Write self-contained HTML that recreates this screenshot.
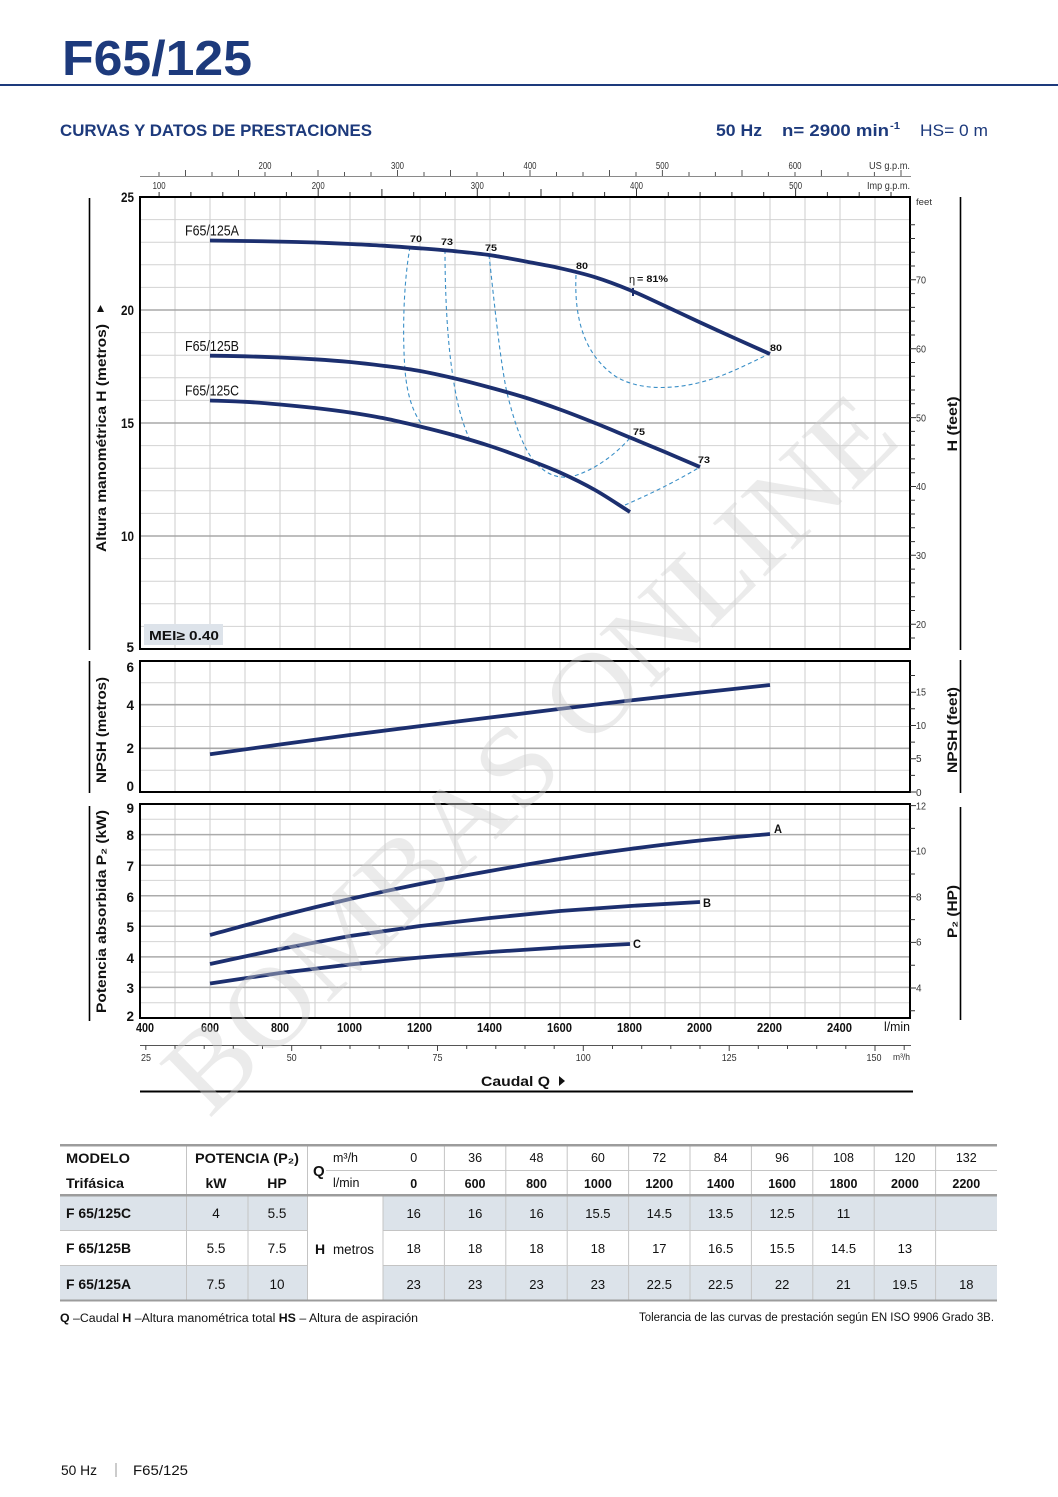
<!DOCTYPE html>
<html><head><meta charset="utf-8">
<style>
html,body{margin:0;padding:0;background:#fff;}
svg{display:block;}
text{font-family:"Liberation Sans",Arial,sans-serif;}
</style></head><body>
<svg width="1058" height="1497" viewBox="0 0 1058 1497" xmlns="http://www.w3.org/2000/svg">
<rect width="1058" height="1497" fill="#fff"/>

<!-- Title -->
<text x="62" y="75" font-size="49" font-weight="bold" fill="#1d3a7c" textLength="190" lengthAdjust="spacingAndGlyphs">F65/125</text>
<rect x="0" y="84" width="1058" height="2" fill="#1d3a7c"/>

<text x="60" y="136" font-size="16.5" font-weight="bold" fill="#1d3a7c" textLength="312" lengthAdjust="spacingAndGlyphs">CURVAS Y DATOS DE PRESTACIONES</text>
<text x="716" y="136" font-size="16.5" font-weight="bold" fill="#1d3a7c" textLength="46" lengthAdjust="spacingAndGlyphs">50 Hz</text>
<text x="782" y="136" font-size="16.5" font-weight="bold" fill="#1d3a7c" textLength="107" lengthAdjust="spacingAndGlyphs">n= 2900 min</text>
<text x="890" y="129" font-size="10" font-weight="bold" fill="#1d3a7c" textLength="10" lengthAdjust="spacingAndGlyphs">-1</text>
<text x="920" y="136" font-size="16.5" fill="#1d3a7c" textLength="68" lengthAdjust="spacingAndGlyphs">HS= 0 m</text>

<!-- Top axes -->
<line x1="140" y1="176.5" x2="911" y2="176.5" stroke="#8a8a8a" stroke-width="1"/>
<path stroke="#555" stroke-width="1" fill="none" d="M159 176V172 M185.5 176V170 M212 176V172 M238.5 176V170 M265 176V172 M291.5 176V172 M318 176V170 M344.5 176V172 M371 176V172 M397.5 176V170 M424 176V172 M450.5 176V170 M477 176V172 M503.5 176V172 M530 176V170 M556.5 176V172 M583 176V172 M609.5 176V170 M636 176V172 M662.4 176V170 M689 176V172 M715.4 176V172 M742 176V170 M768.4 176V172 M795 176V172 M821.4 176V170 M848 176V172 M874.4 176V172 M901 176V170"/>
<g font-size="10" fill="#333" text-anchor="middle">
<text x="265" y="169" textLength="13" lengthAdjust="spacingAndGlyphs">200</text>
<text x="397.5" y="169" textLength="13" lengthAdjust="spacingAndGlyphs">300</text>
<text x="530" y="169" textLength="13" lengthAdjust="spacingAndGlyphs">400</text>
<text x="662.4" y="169" textLength="13" lengthAdjust="spacingAndGlyphs">500</text>
<text x="795" y="169" textLength="13" lengthAdjust="spacingAndGlyphs">600</text>
</g>
<text x="910" y="169" font-size="10.5" fill="#333" text-anchor="end" textLength="41" lengthAdjust="spacingAndGlyphs">US g.p.m.</text>
<path stroke="#333" stroke-width="1" fill="none" d="M159.1 197V192 M190.9 197V192 M222.8 197V192 M254.6 197V192 M286.4 197V192 M318.2 197V189 M350 197V192 M381.9 197V189 M413.7 197V192 M445.5 197V192 M477.3 197V189 M509.2 197V192 M541 197V189 M572.8 197V192 M604.6 197V192 M636.5 197V189 M668.3 197V192 M700.1 197V192 M731.9 197V192 M763.7 197V192 M795.6 197V189 M827.4 197V192 M859.2 197V192 M891 197V192"/>
<g font-size="10" fill="#333" text-anchor="middle">
<text x="159.1" y="189" textLength="13" lengthAdjust="spacingAndGlyphs">100</text>
<text x="318.2" y="189" textLength="13" lengthAdjust="spacingAndGlyphs">200</text>
<text x="477.3" y="189" textLength="13" lengthAdjust="spacingAndGlyphs">300</text>
<text x="636.5" y="189" textLength="13" lengthAdjust="spacingAndGlyphs">400</text>
<text x="795.6" y="189" textLength="13" lengthAdjust="spacingAndGlyphs">500</text>
</g>
<text x="910" y="189" font-size="10.5" fill="#333" text-anchor="end" textLength="43" lengthAdjust="spacingAndGlyphs">Imp g.p.m.</text>
<text x="916" y="205" font-size="9" fill="#333" textLength="16" lengthAdjust="spacingAndGlyphs">feet</text>

<!-- ================= MAIN CHART ================= -->
<path stroke="#cccccc" stroke-width="1" fill="none" d="M175 197V649 M210 197V649 M245 197V649 M280 197V649 M315 197V649 M350 197V649 M385 197V649 M420 197V649 M455 197V649 M490 197V649 M525 197V649 M560 197V649 M595 197V649 M630 197V649 M665 197V649 M700 197V649 M735 197V649 M770 197V649 M805 197V649 M840 197V649 M875 197V649"/>
<path stroke="#d2d2d2" stroke-width="1" fill="none" d="M140 219.6H910 M140 242.2H910 M140 264.8H910 M140 287.4H910 M140 332.6H910 M140 355.2H910 M140 377.8H910 M140 400.4H910 M140 445.6H910 M140 468.2H910 M140 490.8H910 M140 513.4H910 M140 558.6H910 M140 581.2H910 M140 603.8H910 M140 626.4H910"/>
<path stroke="#a8a8a8" stroke-width="1.6" fill="none" d="M140 310H910 M140 423H910 M140 536H910"/>
<rect x="140" y="197" width="770" height="452" fill="none" stroke="#000" stroke-width="2"/>

<!-- left labels main -->
<g font-size="13.5" font-weight="bold" fill="#111" text-anchor="end">
<text x="134" y="202" textLength="13" lengthAdjust="spacingAndGlyphs">25</text>
<text x="134" y="315" textLength="13" lengthAdjust="spacingAndGlyphs">20</text>
<text x="134" y="428" textLength="13" lengthAdjust="spacingAndGlyphs">15</text>
<text x="134" y="541" textLength="13" lengthAdjust="spacingAndGlyphs">10</text>
<text x="134" y="652">5</text>
</g>
<!-- right feet ticks main -->
<path stroke="#333" stroke-width="1" fill="none" d="M910 224.7h5 M910 238.5h5 M910 252.3h5 M910 266h5 M910 279.8h6 M910 293.6h5 M910 307.4h5 M910 321.1h5 M910 335h5 M910 348.7h6 M910 362.5h5 M910 376.2h5 M910 390h5 M910 403.8h5 M910 417.6h6 M910 431.4h5 M910 445.1h5 M910 458.9h5 M910 472.7h5 M910 486.5h6 M910 500.2h5 M910 514h5 M910 527.8h5 M910 541.6h5 M910 555.3h6 M910 569.1h5 M910 582.9h5 M910 596.7h5 M910 610.5h5 M910 624.2h6 M910 638h5"/>
<g font-size="10" fill="#333">
<text x="916" y="283.5" textLength="10" lengthAdjust="spacingAndGlyphs">70</text>
<text x="916" y="352.5" textLength="10" lengthAdjust="spacingAndGlyphs">60</text>
<text x="916" y="421.5" textLength="10" lengthAdjust="spacingAndGlyphs">50</text>
<text x="916" y="490" textLength="10" lengthAdjust="spacingAndGlyphs">40</text>
<text x="916" y="559" textLength="10" lengthAdjust="spacingAndGlyphs">30</text>
<text x="916" y="628" textLength="10" lengthAdjust="spacingAndGlyphs">20</text>
</g>

<!-- efficiency dashed -->
<g stroke="#3a8fc7" stroke-width="1.1" fill="none" stroke-dasharray="4 3">
<path d="M410 247 C404 280 402 330 405 370 C407 395 413 412 421 423"/>
<path d="M445 250 C445 290 447 340 453 377 C457 405 463 425 470 440"/>
<path d="M489 255 C494 300 500 360 507 393 C515 425 525 455 540 467 C552 478 565 479 577 475 C595 469 615 455 630 438"/>
<path d="M625 505 C648 495 675 482 700 467"/>
<path d="M576 275 C574 320 585 355 615 376 C640 392 680 390 715 378 C735 371 752 362 769 354"/>
</g>

<!-- H curves -->
<g stroke="#1c2f6f" stroke-width="3.8" fill="none" stroke-linejoin="round" stroke-linecap="butt">
<path d="M210 240.5 C221.7 240.67 233.3 240.82 245 241 C256.7 241.18 268.3 241.35 280 241.6 C291.7 241.85 303.3 242.1 315 242.5 C326.7 242.9 338.3 243.45 350 244 C361.7 244.55 373.3 245.08 385 245.8 C396.7 246.52 408.3 247.4 420 248.3 C431.7 249.2 443.3 250.07 455 251.2 C466.7 252.33 478.3 253.4 490 255.1 C501.7 256.8 513.3 259.22 525 261.4 C536.7 263.58 548.3 265.57 560 268.2 C571.7 270.83 583.3 273.55 595 277.2 C606.7 280.85 618.3 285.3 630 290.1 C641.7 294.9 653.3 300.62 665 306 C676.7 311.38 688.3 317.02 700 322.4 C711.7 327.78 723.3 333.03 735 338.3 C746.7 343.57 758.3 348.77 770 354"/>
<path d="M210 355.7 C221.7 355.9 233.3 356 245 356.3 C256.7 356.6 268.3 357 280 357.5 C291.7 358 303.3 358.55 315 359.3 C326.7 360.05 338.3 360.88 350 362 C361.7 363.12 373.3 364.5 385 366 C396.7 367.5 408.3 368.92 420 371 C431.7 373.08 443.3 375.75 455 378.5 C466.7 381.25 478.3 384.33 490 387.5 C501.7 390.67 513.3 393.83 525 397.5 C536.7 401.17 548.3 405.25 560 409.5 C571.7 413.75 583.3 418.33 595 423 C606.7 427.67 618.3 432.67 630 437.5 C641.7 442.33 653.3 447.08 665 452 C676.7 456.92 688.3 462 700 467"/>
<path d="M210 400.5 C221.7 400.93 233.3 401.13 245 401.8 C256.7 402.47 268.3 403.47 280 404.5 C291.7 405.53 303.3 406.67 315 408 C326.7 409.33 338.3 410.75 350 412.5 C361.7 414.25 373.3 416.17 385 418.5 C396.7 420.83 408.3 423.67 420 426.5 C431.7 429.33 443.3 432.25 455 435.5 C466.7 438.75 478.3 442.17 490 446 C501.7 449.83 513.3 454.08 525 458.5 C536.7 462.92 548.3 467.25 560 472.5 C571.7 477.75 583.3 483.42 595 490 C606.7 496.58 618.3 504.67 630 512"/>
</g>
<path d="M633 288v8" stroke="#1c2f6f" stroke-width="2"/>

<g font-size="14.5" fill="#111">
<text x="185" y="235.5" textLength="54" lengthAdjust="spacingAndGlyphs">F65/125A</text>
<text x="185" y="351" textLength="54" lengthAdjust="spacingAndGlyphs">F65/125B</text>
<text x="185" y="395.5" textLength="54" lengthAdjust="spacingAndGlyphs">F65/125C</text>
</g>
<g font-size="9.5" font-weight="bold" fill="#111" text-anchor="middle">
<text x="416" y="242" textLength="12" lengthAdjust="spacingAndGlyphs">70</text>
<text x="447" y="245" textLength="12" lengthAdjust="spacingAndGlyphs">73</text>
<text x="491" y="251" textLength="12" lengthAdjust="spacingAndGlyphs">75</text>
<text x="582" y="269" textLength="12" lengthAdjust="spacingAndGlyphs">80</text>
<text x="776" y="351" textLength="12" lengthAdjust="spacingAndGlyphs">80</text>
<text x="639" y="435" textLength="12" lengthAdjust="spacingAndGlyphs">75</text>
<text x="704" y="463" textLength="12" lengthAdjust="spacingAndGlyphs">73</text>
</g>
<text x="629" y="283" font-size="11" fill="#111">η</text>
<text x="637" y="282" font-size="9" font-weight="bold" fill="#111" textLength="31" lengthAdjust="spacingAndGlyphs">= 81%</text>

<rect x="144" y="624" width="79" height="21" fill="#dde3ea"/>
<text x="149" y="640" font-size="13" font-weight="bold" fill="#111" textLength="70" lengthAdjust="spacingAndGlyphs">MEI≥ 0.40</text>

<!-- side titles main -->
<line x1="89.5" y1="198" x2="89.5" y2="650" stroke="#000" stroke-width="1.6"/>
<text transform="translate(106,438) rotate(-90)" text-anchor="middle" font-size="13.5" font-weight="bold" fill="#111" textLength="228" lengthAdjust="spacingAndGlyphs">Altura manométrica H  (metros)</text>
<path d="M97 312 L100.5 305 L104 312 Z" fill="#111"/>
<line x1="960.5" y1="197" x2="960.5" y2="650" stroke="#000" stroke-width="1.6"/>
<text transform="translate(957,424) rotate(-90)" text-anchor="middle" font-size="13.5" font-weight="bold" fill="#111" textLength="55" lengthAdjust="spacingAndGlyphs">H  (feet)</text>

<!-- ================= NPSH CHART ================= -->
<path stroke="#cccccc" stroke-width="1" fill="none" d="M175 661V792 M210 661V792 M245 661V792 M280 661V792 M315 661V792 M350 661V792 M385 661V792 M420 661V792 M455 661V792 M490 661V792 M525 661V792 M560 661V792 M595 661V792 M630 661V792 M665 661V792 M700 661V792 M735 661V792 M770 661V792 M805 661V792 M840 661V792 M875 661V792"/>
<path stroke="#d2d2d2" stroke-width="1" fill="none" d="M140 770.2H910 M140 726.5H910 M140 682.8H910"/>
<path stroke="#a8a8a8" stroke-width="1.6" fill="none" d="M140 748.3H910 M140 704.7H910"/>
<rect x="140" y="661" width="770" height="131" fill="none" stroke="#000" stroke-width="2"/>
<polyline points="210,754.3 280,744.5 350,735 420,726.1 490,717.5 560,708.9 630,700.5 700,692.6 770,685" stroke="#1c2f6f" stroke-width="3.8" fill="none" stroke-linejoin="round"/>
<g font-size="13.5" font-weight="bold" fill="#111" text-anchor="end">
<text x="134" y="672">6</text>
<text x="134" y="710">4</text>
<text x="134" y="753">2</text>
<text x="134" y="791">0</text>
</g>
<path stroke="#333" stroke-width="1" fill="none" d="M910 675.5h5 M910 692.2h6 M910 708.8h5 M910 725.5h6 M910 742.1h5 M910 758.7h6 M910 775.4h5 M910 792h6"/>
<g font-size="10" fill="#333">
<text x="916" y="695.5" textLength="10" lengthAdjust="spacingAndGlyphs">15</text>
<text x="916" y="729" textLength="10" lengthAdjust="spacingAndGlyphs">10</text>
<text x="916" y="762">5</text>
<text x="916" y="796">0</text>
</g>
<line x1="89.5" y1="661" x2="89.5" y2="793" stroke="#000" stroke-width="1.6"/>
<text transform="translate(106,730) rotate(-90)" text-anchor="middle" font-size="13.5" font-weight="bold" fill="#111" textLength="106" lengthAdjust="spacingAndGlyphs">NPSH  (metros)</text>
<line x1="960.5" y1="660" x2="960.5" y2="793" stroke="#000" stroke-width="1.6"/>
<text transform="translate(957,730) rotate(-90)" text-anchor="middle" font-size="13.5" font-weight="bold" fill="#111" textLength="86" lengthAdjust="spacingAndGlyphs">NPSH  (feet)</text>

<!-- ================= POWER CHART ================= -->
<path stroke="#cccccc" stroke-width="1" fill="none" d="M175 804V1018 M210 804V1018 M245 804V1018 M280 804V1018 M315 804V1018 M350 804V1018 M385 804V1018 M420 804V1018 M455 804V1018 M490 804V1018 M525 804V1018 M560 804V1018 M595 804V1018 M630 804V1018 M665 804V1018 M700 804V1018 M735 804V1018 M770 804V1018 M805 804V1018 M840 804V1018 M875 804V1018"/>
<path stroke="#d4d4d4" stroke-width="1" fill="none" d="M140 1002.7H910 M140 972.1H910 M140 941.6H910 M140 911H910 M140 880.4H910 M140 849.9H910 M140 819.3H910"/>
<path stroke="#ababab" stroke-width="1.5" fill="none" d="M140 987.4H910 M140 956.9H910 M140 926.3H910 M140 895.7H910 M140 865.2H910 M140 834.6H910"/>
<rect x="140" y="804" width="770" height="214" fill="none" stroke="#000" stroke-width="2"/>
<g stroke="#1c2f6f" stroke-width="3.8" fill="none" stroke-linejoin="round">
<path d="M210 935 C233.3 928.67 256.7 922 280 916 C303.3 910 326.7 904.33 350 899 C373.3 893.67 396.7 888.67 420 884 C443.3 879.33 466.7 875.17 490 871 C513.3 866.83 536.7 862.67 560 859 C583.3 855.33 606.7 852.08 630 849 C653.3 845.92 676.7 843 700 840.5 C723.3 838 746.7 836.17 770 834"/>
<polyline points="210,964 280,949 350,936 420,926 490,918 560,911 630,906 700,902"/>
<polyline points="210,983.5 280,973 350,964.5 420,957.5 490,952 560,947.5 630,944"/>
</g>
<g font-size="11.5" font-weight="bold" fill="#111">
<text x="774" y="833" textLength="8" lengthAdjust="spacingAndGlyphs">A</text>
<text x="703" y="907" textLength="8" lengthAdjust="spacingAndGlyphs">B</text>
<text x="633" y="948" textLength="8" lengthAdjust="spacingAndGlyphs">C</text>
</g>
<g font-size="13.5" font-weight="bold" fill="#111" text-anchor="end">
<text x="134" y="813">9</text>
<text x="134" y="840">8</text>
<text x="134" y="871">7</text>
<text x="134" y="902">6</text>
<text x="134" y="932">5</text>
<text x="134" y="963">4</text>
<text x="134" y="993">3</text>
<text x="134" y="1021">2</text>
</g>
<path stroke="#333" stroke-width="1" fill="none" d="M910 805.6h6 M910 828.4h5 M910 851.2h6 M910 874h5 M910 896.8h6 M910 919.6h5 M910 942.4h6 M910 965.2h5 M910 988h6 M910 1010.8h5"/>
<g font-size="10" fill="#333">
<text x="916" y="809.5" textLength="10" lengthAdjust="spacingAndGlyphs">12</text>
<text x="916" y="854.5" textLength="10" lengthAdjust="spacingAndGlyphs">10</text>
<text x="916" y="900.5">8</text>
<text x="916" y="945.5">6</text>
<text x="916" y="991.5">4</text>
</g>
<line x1="89.5" y1="806" x2="89.5" y2="1021" stroke="#000" stroke-width="1.6"/>
<text transform="translate(106,911.5) rotate(-90)" text-anchor="middle" font-size="13.5" font-weight="bold" fill="#111" textLength="203" lengthAdjust="spacingAndGlyphs">Potencia absorbida  P₂  (kW)</text>
<line x1="960.5" y1="807" x2="960.5" y2="1020" stroke="#000" stroke-width="1.6"/>
<text transform="translate(957,911.5) rotate(-90)" text-anchor="middle" font-size="13.5" font-weight="bold" fill="#111" textLength="53" lengthAdjust="spacingAndGlyphs">P₂  (HP)</text>

<!-- bottom l/min labels -->
<g font-size="13" font-weight="bold" fill="#111" text-anchor="middle">
<text x="145" y="1032" textLength="18" lengthAdjust="spacingAndGlyphs">400</text>
<text x="210" y="1032" textLength="18" lengthAdjust="spacingAndGlyphs">600</text>
<text x="280" y="1032" textLength="18" lengthAdjust="spacingAndGlyphs">800</text>
<text x="349.5" y="1032" textLength="25" lengthAdjust="spacingAndGlyphs">1000</text>
<text x="419.5" y="1032" textLength="25" lengthAdjust="spacingAndGlyphs">1200</text>
<text x="489.5" y="1032" textLength="25" lengthAdjust="spacingAndGlyphs">1400</text>
<text x="559.5" y="1032" textLength="25" lengthAdjust="spacingAndGlyphs">1600</text>
<text x="629.5" y="1032" textLength="25" lengthAdjust="spacingAndGlyphs">1800</text>
<text x="699.5" y="1032" textLength="25" lengthAdjust="spacingAndGlyphs">2000</text>
<text x="769.5" y="1032" textLength="25" lengthAdjust="spacingAndGlyphs">2200</text>
<text x="839.5" y="1032" textLength="25" lengthAdjust="spacingAndGlyphs">2400</text>
</g>
<text x="910" y="1031" font-size="12.5" fill="#111" text-anchor="end" textLength="26" lengthAdjust="spacingAndGlyphs">l/min</text>

<!-- m3/h axis -->
<line x1="140" y1="1045.5" x2="911" y2="1045.5" stroke="#555" stroke-width="1"/>
<path stroke="#444" stroke-width="1" fill="none" d="M145.8 1045v5 M175 1045v4 M204.2 1045v4 M233.3 1045v4 M262.5 1045v4 M291.7 1045v6 M320.8 1045v4 M350 1045v4 M379.2 1045v4 M408.3 1045v4 M437.5 1045v6 M466.7 1045v4 M495.8 1045v4 M525 1045v4 M554.2 1045v4 M583.3 1045v6 M612.5 1045v4 M641.7 1045v4 M670.8 1045v4 M700 1045v4 M729.2 1045v6 M758.3 1045v4 M787.5 1045v4 M816.7 1045v4 M845.8 1045v4 M875 1045v6 M904.2 1045v5"/>
<g font-size="10.5" fill="#333" text-anchor="middle">
<text x="146" y="1061" textLength="10" lengthAdjust="spacingAndGlyphs">25</text>
<text x="291.7" y="1061" textLength="10" lengthAdjust="spacingAndGlyphs">50</text>
<text x="437.5" y="1061" textLength="10" lengthAdjust="spacingAndGlyphs">75</text>
<text x="583.3" y="1061" textLength="15" lengthAdjust="spacingAndGlyphs">100</text>
<text x="729.2" y="1061" textLength="15" lengthAdjust="spacingAndGlyphs">125</text>
<text x="874" y="1061" textLength="15" lengthAdjust="spacingAndGlyphs">150</text>
</g>
<text x="910" y="1060" font-size="9.5" fill="#333" text-anchor="end" textLength="17" lengthAdjust="spacingAndGlyphs">m³/h</text>

<text x="481" y="1086" font-size="14" font-weight="bold" fill="#111" textLength="69" lengthAdjust="spacingAndGlyphs">Caudal  Q</text>
<path d="M559 1076 L565 1081 L559 1086 Z" fill="#111"/>
<line x1="140" y1="1091.5" x2="913" y2="1091.5" stroke="#000" stroke-width="2"/>

<!-- watermark -->
<text transform="translate(528,752) rotate(-44.3)" x="0" y="40" text-anchor="middle" font-size="114" fill="#cfcfcf" fill-opacity="0.42" textLength="970" lengthAdjust="spacingAndGlyphs" style="font-family:'Liberation Serif',serif">BOMBAS ONLINE</text>

<!-- ================= TABLE ================= -->
<rect x="60" y="1196" width="247" height="34.5" fill="#dce3ea"/>
<rect x="383" y="1196" width="614" height="34.5" fill="#dce3ea"/>
<rect x="60" y="1266" width="247" height="34.5" fill="#dce3ea"/>
<rect x="383" y="1266" width="614" height="34.5" fill="#dce3ea"/>

<path stroke="#c4c4c4" stroke-width="1" fill="none" d="M186.5 1145V1300 M307.5 1145V1300 M248 1196V1300 M383 1196V1300 M444.4 1145V1300 M505.8 1145V1300 M567.2 1145V1300 M628.6 1145V1300 M690 1145V1300 M751.4 1145V1300 M812.8 1145V1300 M874.2 1145V1300 M935.6 1145V1300"/>
<path stroke="#c4c4c4" stroke-width="1" fill="none" d="M60 1230.5H307 M383 1230.5H997 M60 1265.5H307 M383 1265.5H997 M326 1170.5H997"/>
<rect x="60" y="1144" width="937" height="2.5" fill="#9c9c9c"/>
<rect x="60" y="1194" width="937" height="2.5" fill="#9c9c9c"/>
<rect x="60" y="1299.5" width="937" height="2" fill="#9c9c9c"/>

<g fill="#111">
<text x="66" y="1163" font-size="14" font-weight="bold" textLength="64" lengthAdjust="spacingAndGlyphs">MODELO</text>
<text x="66" y="1188" font-size="14" font-weight="bold" textLength="58" lengthAdjust="spacingAndGlyphs">Trifásica</text>
<text x="195" y="1163" font-size="14" font-weight="bold" textLength="104" lengthAdjust="spacingAndGlyphs">POTENCIA (P₂)</text>
<text x="216" y="1188" font-size="14" font-weight="bold" text-anchor="middle">kW</text>
<text x="277" y="1188" font-size="14" font-weight="bold" text-anchor="middle">HP</text>
<text x="313" y="1176" font-size="15" font-weight="bold">Q</text>
<text x="333" y="1162" font-size="12.5">m³/h</text>
<text x="333" y="1187" font-size="12.5">l/min</text>
</g>
<g font-size="12.5" fill="#111" text-anchor="middle">
<text x="413.7" y="1162">0</text><text x="475.1" y="1162">36</text><text x="536.5" y="1162">48</text><text x="597.9" y="1162">60</text><text x="659.3" y="1162">72</text><text x="720.7" y="1162">84</text><text x="782.1" y="1162">96</text><text x="843.5" y="1162">108</text><text x="904.9" y="1162">120</text><text x="966.3" y="1162">132</text>
</g>
<g font-size="12.5" font-weight="bold" fill="#111" text-anchor="middle">
<text x="413.7" y="1188">0</text><text x="475.1" y="1188">600</text><text x="536.5" y="1188">800</text><text x="597.9" y="1188">1000</text><text x="659.3" y="1188">1200</text><text x="720.7" y="1188">1400</text><text x="782.1" y="1188">1600</text><text x="843.5" y="1188">1800</text><text x="904.9" y="1188">2000</text><text x="966.3" y="1188">2200</text>
</g>
<g font-size="14" font-weight="bold" fill="#111">
<text x="66" y="1218" textLength="65" lengthAdjust="spacingAndGlyphs">F 65/125C</text>
<text x="66" y="1253" textLength="65" lengthAdjust="spacingAndGlyphs">F 65/125B</text>
<text x="66" y="1289" textLength="65" lengthAdjust="spacingAndGlyphs">F 65/125A</text>
<text x="315" y="1254">H</text>
</g>
<text x="333" y="1254" font-size="13.5" fill="#111" textLength="41" lengthAdjust="spacingAndGlyphs">metros</text>
<g font-size="13.5" fill="#111" text-anchor="middle">
<text x="216" y="1218">4</text><text x="277" y="1218">5.5</text>
<text x="216" y="1253">5.5</text><text x="277" y="1253">7.5</text>
<text x="216" y="1289">7.5</text><text x="277" y="1289">10</text>
</g>
<g font-size="13" fill="#111" text-anchor="middle">
<text x="413.7" y="1218">16</text><text x="475.1" y="1218">16</text><text x="536.5" y="1218">16</text><text x="597.9" y="1218">15.5</text><text x="659.3" y="1218">14.5</text><text x="720.7" y="1218">13.5</text><text x="782.1" y="1218">12.5</text><text x="843.5" y="1218">11</text>
<text x="413.7" y="1253">18</text><text x="475.1" y="1253">18</text><text x="536.5" y="1253">18</text><text x="597.9" y="1253">18</text><text x="659.3" y="1253">17</text><text x="720.7" y="1253">16.5</text><text x="782.1" y="1253">15.5</text><text x="843.5" y="1253">14.5</text><text x="904.9" y="1253">13</text>
<text x="413.7" y="1289">23</text><text x="475.1" y="1289">23</text><text x="536.5" y="1289">23</text><text x="597.9" y="1289">23</text><text x="659.3" y="1289">22.5</text><text x="720.7" y="1289">22.5</text><text x="782.1" y="1289">22</text><text x="843.5" y="1289">21</text><text x="904.9" y="1289">19.5</text><text x="966.3" y="1289">18</text>
</g>

<!-- footnotes -->
<text x="60" y="1322" font-size="11.5" fill="#111" textLength="358" lengthAdjust="spacingAndGlyphs"><tspan font-weight="bold">Q</tspan> –Caudal  <tspan font-weight="bold">H</tspan> –Altura manométrica total  <tspan font-weight="bold">HS</tspan> – Altura de aspiración</text>
<text x="994" y="1321" font-size="11.5" fill="#111" text-anchor="end" textLength="355" lengthAdjust="spacingAndGlyphs">Tolerancia de las curvas de prestación según EN ISO 9906 Grado 3B.</text>

<!-- footer -->
<text x="61" y="1475" font-size="14" fill="#111" textLength="36" lengthAdjust="spacingAndGlyphs">50 Hz</text>
<line x1="116" y1="1463" x2="116" y2="1477" stroke="#999" stroke-width="1"/>
<text x="133" y="1475" font-size="14" fill="#111" textLength="55" lengthAdjust="spacingAndGlyphs">F65/125</text>
</svg>
</body></html>
